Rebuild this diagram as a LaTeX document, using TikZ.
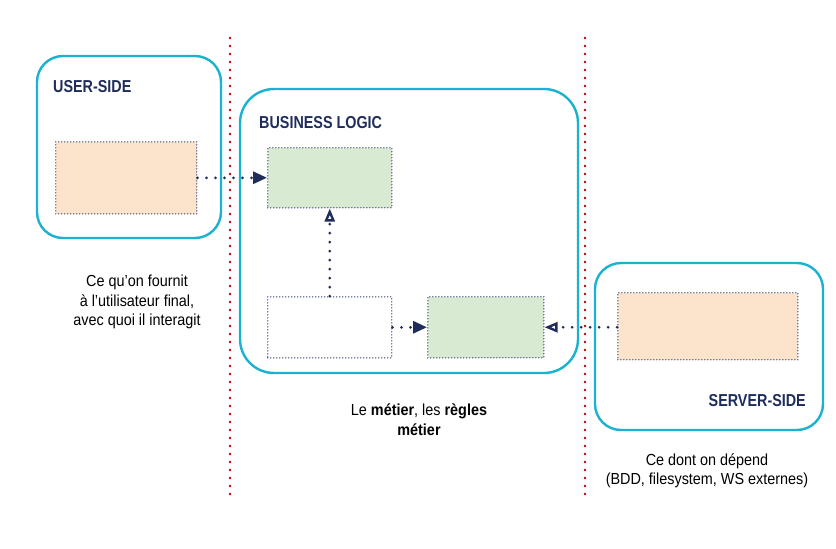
\documentclass[tikz,border=0pt]{standalone}
\usepackage{fontspec}
\setmainfont{Liberation Sans}
\newfontfamily\captionfont[FakeStretch=0.9]{Liberation Sans}
\newfontfamily\titlefont[FakeStretch=0.83]{Liberation Sans}
\usetikzlibrary{arrows.meta}
\definecolor{zonecyan}{HTML}{1AB2CF}
\definecolor{navy}{HTML}{1F2D5C}
\definecolor{dotgrey}{HTML}{4A5784}
\definecolor{sepred}{HTML}{C00000}
\definecolor{peach}{HTML}{FCE4CC}
\definecolor{sage}{HTML}{D9EAD3}
\tikzset{
  zone/.style={draw=zonecyan, line width=2.4pt, rounded corners=#1},
  zonetitle/.style={font=\titlefont\bfseries\fontsize{17.3}{20}\selectfont, text=navy, inner sep=0pt},
  part/.style={draw=dotgrey, line width=1.5pt, line cap=round, dash pattern=on 0pt off 3pt},
  link/.style={draw=navy, line width=3pt, line cap=round, dash pattern=on 0pt off 9pt},
  filledtip/.style={-{Triangle[length=14pt,width=12pt]}},
  opentip/.style={-{Triangle[open,length=13pt,width=10pt,line width=2.4pt]}},
  separator/.style={draw=sepred, line width=2.6pt, line cap=round, dash pattern=on 0pt off 8pt},
  caption/.style={font=\captionfont\fontsize{16}{19.5}\selectfont, align=center, inner sep=0pt},
}
\begin{document}
\begin{tikzpicture}[x=1pt,y=-1pt]
\useasboundingbox (0,0) rectangle (836,549);

% column separators
\draw[separator] (230,38) coordinate (s1top) -- (230,495) coordinate (s1bot);
\draw[separator] (585,38) coordinate (s2top) -- (585,495) coordinate (s2bot);

% user side
\draw[zone=26pt] (37,56) rectangle (221,238);
\node[zonetitle, anchor=west] (ustitle) at (53,87) {USER-SIDE};
\node[part, fill=peach, minimum width=141pt, minimum height=72pt, anchor=north west] (ui) at (55,141) {};

% business logic
\draw[zone=34pt] (240,89) rectangle (578,373);
\node[zonetitle, anchor=west] (bltitle) at (259,123) {BUSINESS LOGIC};
\node[part, fill=sage, minimum width=124pt, minimum height=60pt, anchor=north west] (api) at (267,147) {};
\node[part, fill=white, minimum width=124pt, minimum height=61pt, anchor=north west] (core) at (267,296) {};
\node[part, fill=sage, minimum width=116pt, minimum height=61pt, anchor=north west] (spi) at (427,296) {};

% server side
\draw[zone=26pt] (595,263) rectangle (823,430);
\node[zonetitle, anchor=east] (sstitle) at (806,401) {SERVER-SIDE};
\node[part, fill=peach, minimum width=180pt, minimum height=67pt, anchor=north west] (infra) at (617,292) {};

% dependencies
\draw[link, filledtip] (ui.east |- api.west) -- (api.west);
\draw[link, opentip] (core.north) -- (core.north |- api.south);
\draw[link, filledtip] (core.east) -- (spi.west);
\draw[link, opentip] (infra.west |- spi.east) -- (spi.east);

% captions
\node[caption] (uscap) at (137,302) {Ce qu’on fournit\\à l’utilisateur final,\\avec quoi il interagit};
\node[caption] (blcap) at (419,419.5) {Le \textbf{métier}, les \textbf{règles}\\\textbf{métier}};
\node[caption] (sscap) at (707,471) {Ce dont on dépend\\(BDD, filesystem, WS externes)};
\end{tikzpicture}
\end{document}
